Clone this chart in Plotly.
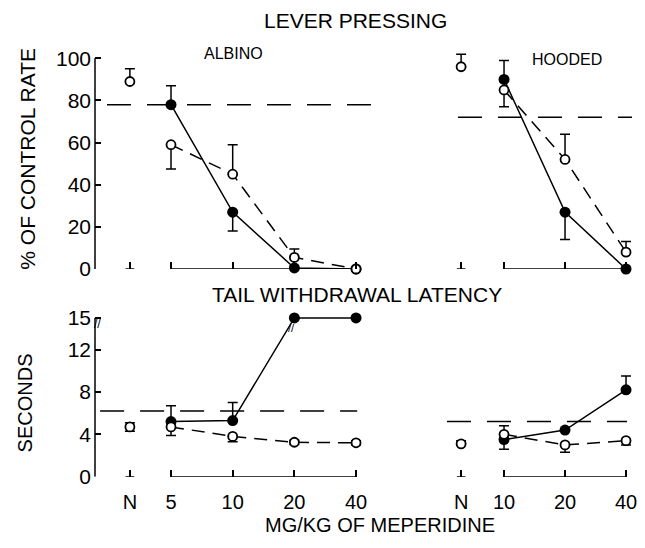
import math
import plotly.graph_objects as go

# ---------------- data ----------------
ALB_DOSES = [5, 10, 20, 40]
HOOD_DOSES = [10, 20, 40]
ALB_TICKTEXT = ["N", "5", "10", "20", "40"]
HOOD_TICKTEXT = ["N", "10", "20", "40"]
ALB_N_POS = 3.15   # axis position of the "N" (no drug) column
HOOD_N_POS = 6.14

# Lever pressing (% of control rate)
ALB_LEVER_FILLED = [78, 27, 0.5, 0]
ALB_LEVER_FILLED_UP = [9, 0, 0, 0]
ALB_LEVER_FILLED_DN = [0, 9, 0, 0]
ALB_LEVER_OPEN = [59, 45, 5.5, 0]
ALB_LEVER_OPEN_UP = [0, 14, 4, 0]
ALB_LEVER_OPEN_DN = [11.5, 0, 0, 0]
ALB_LEVER_N = [89]
ALB_LEVER_N_UP = [6]

HOOD_LEVER_FILLED = [90, 27, 0]
HOOD_LEVER_FILLED_UP = [9, 0, 0]
HOOD_LEVER_FILLED_DN = [0, 13, 0]
HOOD_LEVER_OPEN = [85, 52, 8]
HOOD_LEVER_OPEN_UP = [0, 12, 5]
HOOD_LEVER_OPEN_DN = [8, 0, 0]
HOOD_LEVER_N = [96]
HOOD_LEVER_N_UP = [6]

# Tail withdrawal latency (seconds)
ALB_TAIL_FILLED = [5.2, 5.3, 15, 15]
ALB_TAIL_FILLED_UP = [1.5, 1.7, 0, 0]
ALB_TAIL_OPEN = [4.7, 3.8, 3.25, 3.2]
ALB_TAIL_OPEN_UP = [0, 0, 0.2, 0.2]
ALB_TAIL_OPEN_DN = [0.8, 0.5, 0.2, 0.2]
ALB_TAIL_N = [4.7]
ALB_TAIL_N_ERR = [0.4]

HOOD_TAIL_FILLED = [3.5, 4.4, 8.2]
HOOD_TAIL_FILLED_UP = [0, 0, 1.3]
HOOD_TAIL_FILLED_DN = [0.9, 0, 0]
HOOD_TAIL_OPEN = [4.0, 3.0, 3.4]
HOOD_TAIL_OPEN_UP = [0.8, 0, 0]
HOOD_TAIL_OPEN_DN = [0, 0.7, 0.4]
HOOD_TAIL_N = [3.1]
HOOD_TAIL_N_UP = [0.3]

# control (dashed) levels
CONTROL = {"x": 78, "x2": 72, "x3": 6.2, "x4": 5.2}

LEVER_TICKS = [0, 20, 40, 60, 80, 100]
TAIL_TICKS = [0, 4, 8, 12, 15]
TAIL_CUTOFF = 15

# ---------------- styling ----------------
FONT = "Liberation Sans"
BLACK = "black"
LW = 1.5
OFF = 8      # page body margin
K = 0.977    # vertical scale of the photographed page


def err(up, dn=None):
    return dict(type="data", symmetric=False, array=up,
                arrayminus=dn if dn is not None else [0] * len(up),
                color=BLACK, thickness=LW, width=5)


def filled(xs, ys, up, dn, xa, ya):
    return go.Scatter(x=xs, y=ys, mode="lines+markers", xaxis=xa, yaxis=ya,
                      line=dict(color=BLACK, width=LW),
                      marker=dict(symbol="circle", size=11, color=BLACK),
                      error_y=err(up, dn), cliponaxis=False, showlegend=False)


def opened(xs, ys, up, dn, xa, ya, mode="lines+markers"):
    return go.Scatter(x=xs, y=ys, mode=mode, xaxis=xa, yaxis=ya,
                      line=dict(color=BLACK, width=LW, dash="13px,8px"),
                      marker=dict(symbol="circle", size=9, color="white",
                                  line=dict(color=BLACK, width=1.8)),
                      error_y=err(up, dn), cliponaxis=False, showlegend=False)


def baseline(doses, npos, xa, ya):
    return [go.Scatter(x=[min(doses), max(doses)], y=[0, 0], mode="lines",
                       xaxis=xa, yaxis=ya, line=dict(color=BLACK, width=LW),
                       hoverinfo="skip", showlegend=False, cliponaxis=False),
            go.Scatter(x=[npos / 1.05, npos * 1.05], y=[0, 0], mode="lines",
                       xaxis=xa, yaxis=ya, line=dict(color=BLACK, width=LW),
                       hoverinfo="skip", showlegend=False, cliponaxis=False)]


traces = []
traces += baseline(ALB_DOSES, ALB_N_POS, "x", "y")
traces.append(filled(ALB_DOSES, ALB_LEVER_FILLED, ALB_LEVER_FILLED_UP, ALB_LEVER_FILLED_DN, "x", "y"))
traces.append(opened(ALB_DOSES, ALB_LEVER_OPEN, ALB_LEVER_OPEN_UP, ALB_LEVER_OPEN_DN, "x", "y"))
traces.append(opened([ALB_N_POS], ALB_LEVER_N, ALB_LEVER_N_UP, None, "x", "y", mode="markers"))

traces += baseline(HOOD_DOSES, HOOD_N_POS, "x2", "y2")
traces.append(filled(HOOD_DOSES, HOOD_LEVER_FILLED, HOOD_LEVER_FILLED_UP, HOOD_LEVER_FILLED_DN, "x2", "y2"))
traces.append(opened(HOOD_DOSES, HOOD_LEVER_OPEN, HOOD_LEVER_OPEN_UP, HOOD_LEVER_OPEN_DN, "x2", "y2"))
traces.append(opened([HOOD_N_POS], HOOD_LEVER_N, HOOD_LEVER_N_UP, None, "x2", "y2", mode="markers"))

traces += baseline(ALB_DOSES, ALB_N_POS, "x3", "y3")
traces.append(filled(ALB_DOSES, ALB_TAIL_FILLED, ALB_TAIL_FILLED_UP, None, "x3", "y3"))
traces.append(opened(ALB_DOSES, ALB_TAIL_OPEN, ALB_TAIL_OPEN_UP, ALB_TAIL_OPEN_DN, "x3", "y3"))
traces.append(opened([ALB_N_POS], ALB_TAIL_N, ALB_TAIL_N_ERR, ALB_TAIL_N_ERR, "x3", "y3", mode="markers"))

traces += baseline(HOOD_DOSES, HOOD_N_POS, "x4", "y4")
traces.append(filled(HOOD_DOSES, HOOD_TAIL_FILLED, HOOD_TAIL_FILLED_UP, HOOD_TAIL_FILLED_DN, "x4", "y4"))
traces.append(opened(HOOD_DOSES, HOOD_TAIL_OPEN, HOOD_TAIL_OPEN_UP, HOOD_TAIL_OPEN_DN, "x4", "y4"))
traces.append(opened([HOOD_N_POS], HOOD_TAIL_N, HOOD_TAIL_N_UP, None, "x4", "y4", mode="markers"))

fig = go.Figure(traces)

W = 645 - OFF
H = round(548 / K) - OFF


def px(x):
    return (x - OFF) / W


def py(y):
    return (H - (y / K - OFF)) / H


LEFT_DOM = [px(95), px(380)]
RIGHT_DOM = [px(440), px(640)]
TOP_DOM = [py(268), py(45.4)]
BOT_DOM = [py(475), py(303)]
LEFT_RANGE = [0.328, 1.719]
RIGHT_RANGE = [0.684, 1.671]


def xax(dom, rng, anchor, tickvals, ticktext, labels):
    return dict(domain=dom, range=rng, type="log", anchor=anchor,
                showline=False, showgrid=False, zeroline=False,
                ticks="inside", ticklen=7, tickwidth=LW, tickcolor=BLACK,
                tickvals=tickvals, ticktext=ticktext, showticklabels=labels,
                ticklabelstandoff=11,
                tickfont=dict(family=FONT, size=20, color=BLACK))


def yax(dom, rng, anchor, tickvals, visible=True):
    return dict(domain=dom, range=rng, anchor=anchor, visible=visible,
                showline=False, showgrid=False, zeroline=False,
                ticks="inside", ticklen=6, tickwidth=LW, tickcolor=BLACK,
                tickvals=tickvals, ticklabelstandoff=3,
                tickfont=dict(family=FONT, size=21, color=BLACK))


alb_tv = [ALB_N_POS] + ALB_DOSES
hood_tv = [HOOD_N_POS] + HOOD_DOSES

shapes = []
shapes.append(dict(type="line", xref="x domain", yref="y", x0=0, x1=0,
                   y0=0, y1=max(LEVER_TICKS), line=dict(color=BLACK, width=LW)))
shapes.append(dict(type="line", xref="x3 domain", yref="y3", x0=0, x1=0,
                   y0=0, y1=max(TAIL_TICKS), line=dict(color=BLACK, width=LW)))
ctrl_ext = {"x": (0.042, 0.98, "y"), "x2": (0.09, 0.96, "y2"),
            "x3": (0.018, 0.92, "y3"), "x4": (0.035, 0.935, "y4")}
for xa, (a, b, ya) in ctrl_ext.items():
    shapes.append(dict(type="line", xref=f"{xa} domain", yref=ya, x0=a, x1=b,
                       y0=CONTROL[xa], y1=CONTROL[xa],
                       line=dict(color=BLACK, width=LW, dash="24px,16px")))

annots = []


def txt(s, x, y, size, angle=0):
    annots.append(dict(text=s, x=px(x), y=py(y), xref="paper", yref="paper",
                       showarrow=False, xanchor="center", yanchor="middle",
                       textangle=angle, font=dict(family=FONT, size=size, color=BLACK)))


txt("LEVER PRESSING", 355, 20, 21)
txt("ALBINO", 233, 53, 16)
txt("HOODED", 567, 59, 16)
txt("TAIL WITHDRAWAL LATENCY", 357, 293, 21)
txt("% OF CONTROL RATE", 28, 158, 21, -90)
txt("SECONDS", 25, 402, 20, -90)
txt("MG/KG OF MEPERIDINE", 380, 523, 20)

# axis-break marks at the 15 s cutoff
annots.append(dict(text="//", xref="x3 domain", yref="y3", x=0.01, y=TAIL_CUTOFF - 0.6,
                   showarrow=False, xanchor="center", yanchor="middle",
                   font=dict(family=FONT, size=12, color=BLACK)))
annots.append(dict(text="//", xref="x3", yref="y3", x=math.log10(ALB_DOSES[2]) - 0.012,
                   y=TAIL_CUTOFF - 1.0, showarrow=False, xanchor="center", yanchor="middle",
                   font=dict(family=FONT, size=11, color=BLACK)))

fig.update_layout(
    width=W, height=H,
    margin=dict(l=0, r=0, t=0, b=0),
    paper_bgcolor="white", plot_bgcolor="white",
    showlegend=False,
    xaxis=xax(LEFT_DOM, LEFT_RANGE, "y", alb_tv, ALB_TICKTEXT, False),
    xaxis2=xax(RIGHT_DOM, RIGHT_RANGE, "y2", hood_tv, HOOD_TICKTEXT, False),
    xaxis3=xax(LEFT_DOM, LEFT_RANGE, "y3", alb_tv, ALB_TICKTEXT, True),
    xaxis4=xax(RIGHT_DOM, RIGHT_RANGE, "y4", hood_tv, HOOD_TICKTEXT, True),
    yaxis=yax(TOP_DOM, [0, 106], "x", LEVER_TICKS),
    yaxis2=yax(TOP_DOM, [0, 106], "x2", LEVER_TICKS, visible=False),
    yaxis3=yax(BOT_DOM, [0, 16.3], "x3", TAIL_TICKS),
    yaxis4=yax(BOT_DOM, [0, 16.3], "x4", TAIL_TICKS, visible=False),
    shapes=shapes,
    annotations=annots,
)

fig.write_html("out.html")
